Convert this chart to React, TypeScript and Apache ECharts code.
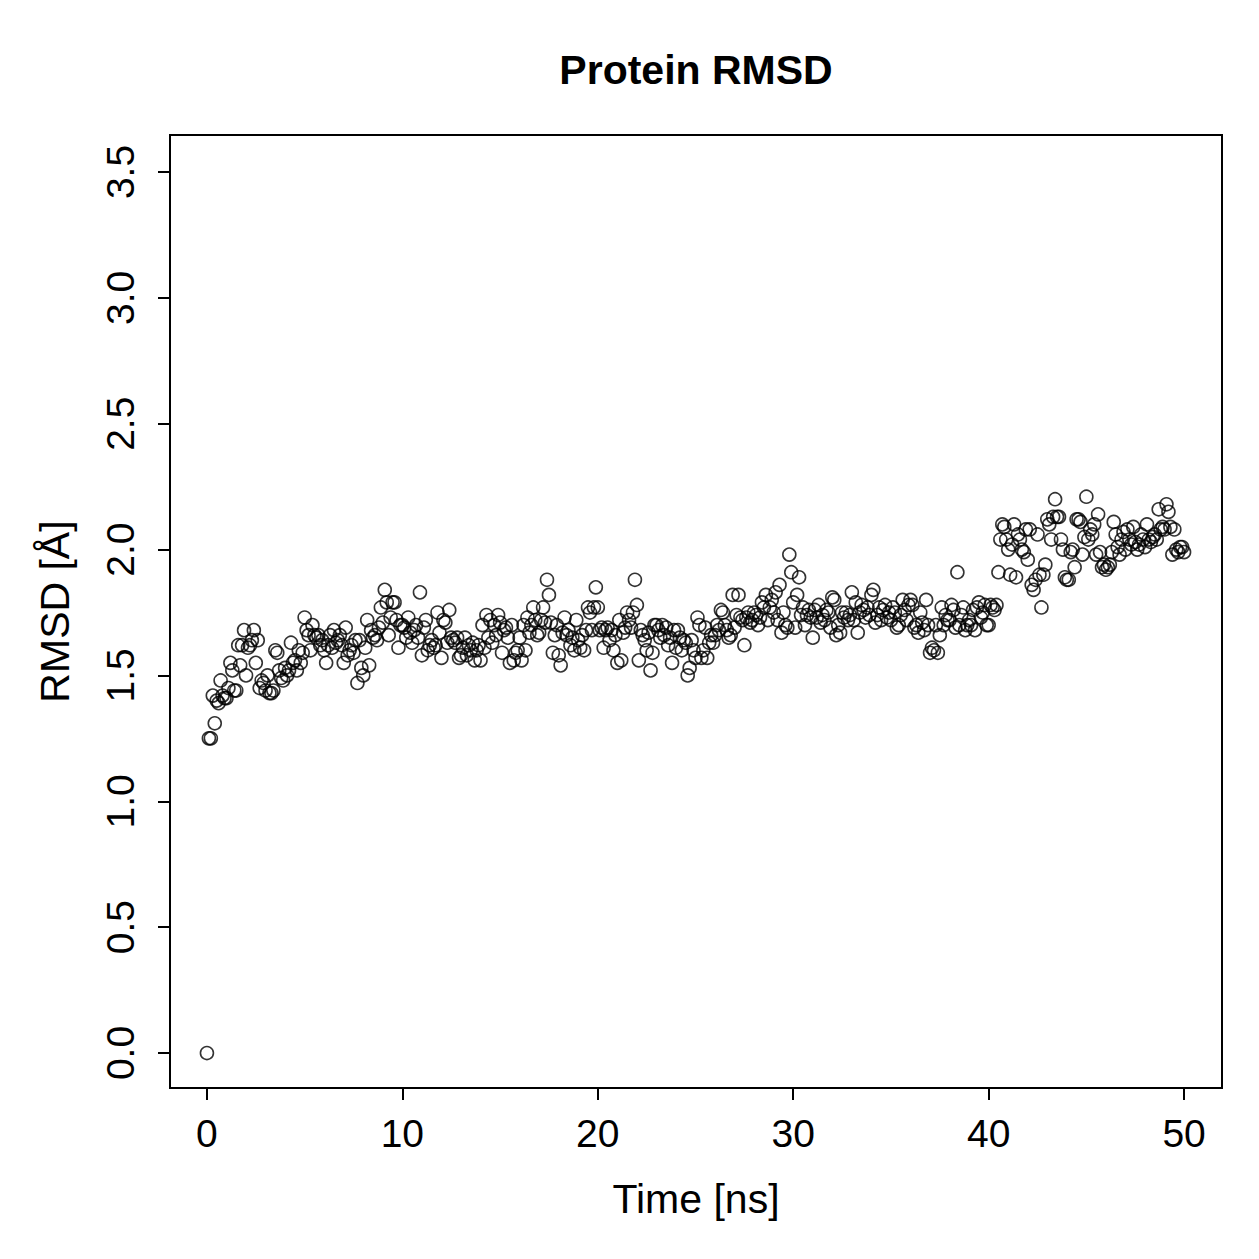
import React, { useEffect, useRef } from "react";
import * as echarts from "echarts";

const TITLE = "Protein RMSD";
const X_NAME = "Time [ns]";
const Y_NAME = "RMSD [Å]";
const X_TICKS = [0, 10, 20, 30, 40, 50];
const Y_TICKS = [0, 0.5, 1, 1.5, 2, 2.5, 3, 3.5];
const TIME_STEP = 0.1; // ns between frames

// RMSD values, 10 frames per ns (t = k.0 ... k.9), last entry at 50.0 ns
const rmsd00 = [0.00, 1.25, 1.25, 1.42, 1.31, 1.40, 1.39, 1.48, 1.42, 1.41];
const rmsd01 = [1.41, 1.45, 1.55, 1.52, 1.44, 1.44, 1.62, 1.54, 1.62, 1.68];
const rmsd02 = [1.50, 1.61, 1.62, 1.64, 1.68, 1.55, 1.64, 1.45, 1.48, 1.47];
const rmsd03 = [1.44, 1.50, 1.43, 1.43, 1.44, 1.60, 1.59, 1.52, 1.49, 1.48];
const rmsd04 = [1.53, 1.50, 1.52, 1.63, 1.55, 1.56, 1.52, 1.60, 1.55, 1.59];
const rmsd05 = [1.73, 1.68, 1.66, 1.60, 1.70, 1.66, 1.65, 1.66, 1.62, 1.64];
const rmsd06 = [1.60, 1.55, 1.62, 1.66, 1.61, 1.68, 1.63, 1.64, 1.66, 1.62];
const rmsd07 = [1.55, 1.69, 1.58, 1.60, 1.62, 1.59, 1.64, 1.47, 1.64, 1.53];
const rmsd08 = [1.50, 1.61, 1.72, 1.54, 1.68, 1.65, 1.66, 1.64, 1.69, 1.77];
const rmsd09 = [1.71, 1.84, 1.79, 1.66, 1.73, 1.79, 1.79, 1.72, 1.61, 1.70];
const rmsd10 = [1.70, 1.69, 1.65, 1.73, 1.67, 1.63, 1.68, 1.70, 1.65, 1.83];
const rmsd11 = [1.58, 1.69, 1.72, 1.60, 1.62, 1.64, 1.61, 1.62, 1.75, 1.67];
const rmsd12 = [1.57, 1.72, 1.71, 1.63, 1.76, 1.65, 1.64, 1.63, 1.65, 1.57];
const rmsd13 = [1.58, 1.61, 1.65, 1.58, 1.62, 1.60, 1.63, 1.56, 1.60, 1.62];
const rmsd14 = [1.56, 1.70, 1.61, 1.74, 1.65, 1.72, 1.63, 1.70, 1.66, 1.74];
const rmsd15 = [1.71, 1.59, 1.68, 1.69, 1.65, 1.55, 1.70, 1.56, 1.59, 1.60];
const rmsd16 = [1.65, 1.56, 1.70, 1.60, 1.73, 1.67, 1.70, 1.77, 1.72, 1.66];
const rmsd17 = [1.67, 1.72, 1.77, 1.71, 1.88, 1.82, 1.71, 1.59, 1.66, 1.70];
const rmsd18 = [1.58, 1.54, 1.67, 1.73, 1.66, 1.68, 1.62, 1.65, 1.60, 1.72];
const rmsd19 = [1.64, 1.61, 1.66, 1.60, 1.68, 1.77, 1.75, 1.68, 1.77, 1.85];
const rmsd20 = [1.77, 1.68, 1.69, 1.61, 1.68, 1.69, 1.64, 1.68, 1.60, 1.66];
const rmsd21 = [1.55, 1.72, 1.56, 1.67, 1.69, 1.75, 1.72, 1.69, 1.75, 1.88];
const rmsd22 = [1.78, 1.56, 1.68, 1.66, 1.64, 1.60, 1.67, 1.52, 1.59, 1.70];
const rmsd23 = [1.70, 1.68, 1.65, 1.70, 1.66, 1.69, 1.62, 1.65, 1.55, 1.68];
const rmsd24 = [1.61, 1.68, 1.65, 1.60, 1.64, 1.63, 1.50, 1.53, 1.64, 1.60];
const rmsd25 = [1.57, 1.73, 1.70, 1.57, 1.60, 1.69, 1.57, 1.63, 1.66, 1.63];
const rmsd26 = [1.66, 1.70, 1.68, 1.76, 1.75, 1.70, 1.68, 1.65, 1.66, 1.82];
const rmsd27 = [1.69, 1.74, 1.82, 1.73, 1.72, 1.62, 1.73, 1.75, 1.71, 1.72];
const rmsd28 = [1.75, 1.74, 1.70, 1.73, 1.79, 1.77, 1.82, 1.72, 1.77, 1.80];
const rmsd29 = [1.75, 1.83, 1.72, 1.86, 1.67, 1.75, 1.70, 1.69, 1.98, 1.91];
const rmsd30 = [1.79, 1.69, 1.82, 1.89, 1.74, 1.77, 1.70, 1.74, 1.76, 1.73];
const rmsd31 = [1.65, 1.76, 1.73, 1.78, 1.71, 1.74, 1.72, 1.76, 1.75, 1.69];
const rmsd32 = [1.81, 1.80, 1.66, 1.70, 1.67, 1.75, 1.73, 1.75, 1.72, 1.74];
const rmsd33 = [1.83, 1.72, 1.79, 1.67, 1.75, 1.78, 1.76, 1.73, 1.77, 1.74];
const rmsd34 = [1.82, 1.84, 1.71, 1.74, 1.77, 1.72, 1.76, 1.78, 1.73, 1.75];
const rmsd35 = [1.72, 1.77, 1.75, 1.69, 1.70, 1.74, 1.80, 1.76, 1.72, 1.78];
const rmsd36 = [1.80, 1.78, 1.69, 1.70, 1.67, 1.75, 1.71, 1.68, 1.80, 1.70];
const rmsd37 = [1.59, 1.61, 1.60, 1.70, 1.59, 1.66, 1.77, 1.70, 1.74, 1.72];
const rmsd38 = [1.72, 1.78, 1.76, 1.69, 1.91, 1.70, 1.74, 1.77, 1.68, 1.70];
const rmsd39 = [1.72, 1.70, 1.76, 1.68, 1.77, 1.79, 1.73, 1.75, 1.78, 1.70];
const rmsd40 = [1.70, 1.78, 1.77, 1.76, 1.78, 1.91, 2.04, 2.10, 2.09, 2.04];
const rmsd41 = [2.00, 1.90, 2.02, 2.10, 1.89, 2.06, 2.04, 2.00, 1.99, 2.08];
const rmsd42 = [1.96, 2.08, 1.86, 1.84, 1.88, 2.06, 1.90, 1.77, 1.90, 1.94];
const rmsd43 = [2.12, 2.10, 2.04, 2.13, 2.20, 2.13, 2.13, 2.04, 2.00, 1.89];
const rmsd44 = [1.88, 1.88, 1.99, 2.00, 1.93, 2.12, 2.12, 2.11, 1.98, 2.05];
const rmsd45 = [2.21, 2.04, 2.08, 2.06, 2.10, 1.98, 2.14, 1.99, 1.93, 1.94];
const rmsd46 = [1.92, 1.93, 1.94, 1.99, 2.11, 2.06, 2.01, 1.98, 2.04, 2.07];
const rmsd47 = [2.00, 2.08, 2.04, 2.02, 2.09, 2.03, 2.00, 2.02, 2.06, 2.04];
const rmsd48 = [2.01, 2.10, 2.04, 2.03, 2.05, 2.06, 2.04, 2.16, 2.08, 2.09];
const rmsd49 = [2.08, 2.18, 2.15, 2.09, 1.98, 2.08, 2.00, 1.99, 2.01, 2.01];
const rmsd50 = [1.99];

const RMSD: number[] = [
  rmsd00, rmsd01, rmsd02, rmsd03, rmsd04, rmsd05, rmsd06, rmsd07, rmsd08, rmsd09,
  rmsd10, rmsd11, rmsd12, rmsd13, rmsd14, rmsd15, rmsd16, rmsd17, rmsd18, rmsd19,
  rmsd20, rmsd21, rmsd22, rmsd23, rmsd24, rmsd25, rmsd26, rmsd27, rmsd28, rmsd29,
  rmsd30, rmsd31, rmsd32, rmsd33, rmsd34, rmsd35, rmsd36, rmsd37, rmsd38, rmsd39,
  rmsd40, rmsd41, rmsd42, rmsd43, rmsd44, rmsd45, rmsd46, rmsd47, rmsd48, rmsd49,
  rmsd50,
].flat();

const FONT = "'Liberation Sans', Arial, Helvetica, sans-serif";

export default function App() {
  const ref = useRef<HTMLDivElement>(null);
  useEffect(() => {
    if (!ref.current) return;
    const chart = echarts.init(ref.current, null, { renderer: "svg" });
    const data = RMSD.map((v, i) => [Math.round(i * TIME_STEP * 10) / 10, v]);
    const left = 170, top = 135, right = 1222, bottom = 1088;
    chart.setOption({
      animation: false,
      backgroundColor: "#ffffff",
      textStyle: { fontFamily: FONT },
      graphic: [
        {
          type: "text",
          x: (left + right) / 2,
          y: 70,
          style: {
            text: TITLE,
            fill: "#000",
            font: `bold 41px ${FONT}`,
            textAlign: "center",
            textVerticalAlign: "middle",
          },
        },
      ],
      grid: {
        left,
        top,
        width: right - left,
        height: bottom - top,
        show: true,
        borderColor: "#000",
        borderWidth: 2,
        backgroundColor: "transparent",
      },
      xAxis: {
        type: "value",
        min: -1.89,
        max: 51.94,
        name: X_NAME,
        nameLocation: "middle",
        nameGap: 90,
        nameTextStyle: { fontSize: 41, color: "#000", fontFamily: FONT },
        axisLine: { show: false, onZero: false },
        splitLine: { show: false },
        axisTick: {
          show: true,
          length: 12,
          customValues: X_TICKS,
          lineStyle: { color: "#000", width: 2 },
        },
        axisLabel: {
          customValues: X_TICKS,
          fontSize: 39,
          color: "#000",
          margin: 26,
          fontFamily: FONT,
        },
      },
      yAxis: {
        type: "value",
        min: -0.139,
        max: 3.647,
        name: Y_NAME,
        nameLocation: "middle",
        nameRotate: 90,
        nameGap: 95,
        nameTextStyle: { fontSize: 41, color: "#000", fontFamily: FONT },
        axisLine: { show: false, onZero: false },
        splitLine: { show: false },
        axisTick: {
          show: true,
          length: 12,
          customValues: Y_TICKS,
          lineStyle: { color: "#000", width: 2 },
        },
        axisLabel: {
          customValues: Y_TICKS,
          rotate: 90,
          fontSize: 39,
          color: "#000",
          margin: 30,
          fontFamily: FONT,
          formatter: (v: number) => v.toFixed(1),
        },
      },
      series: [
        {
          type: "scatter",
          data,
          symbol: "circle",
          symbolSize: 13,
          itemStyle: {
            color: "rgba(0,0,0,0)",
            borderColor: "#000",
            borderWidth: 1.6,
          },
          emphasis: { disabled: true },
        },
      ],
    });
    return () => chart.dispose();
  }, []);
  return (
    <div
      ref={ref}
      style={{ position: "absolute", left: 0, top: 0, width: 1259, height: 1259 }}
    />
  );
}
